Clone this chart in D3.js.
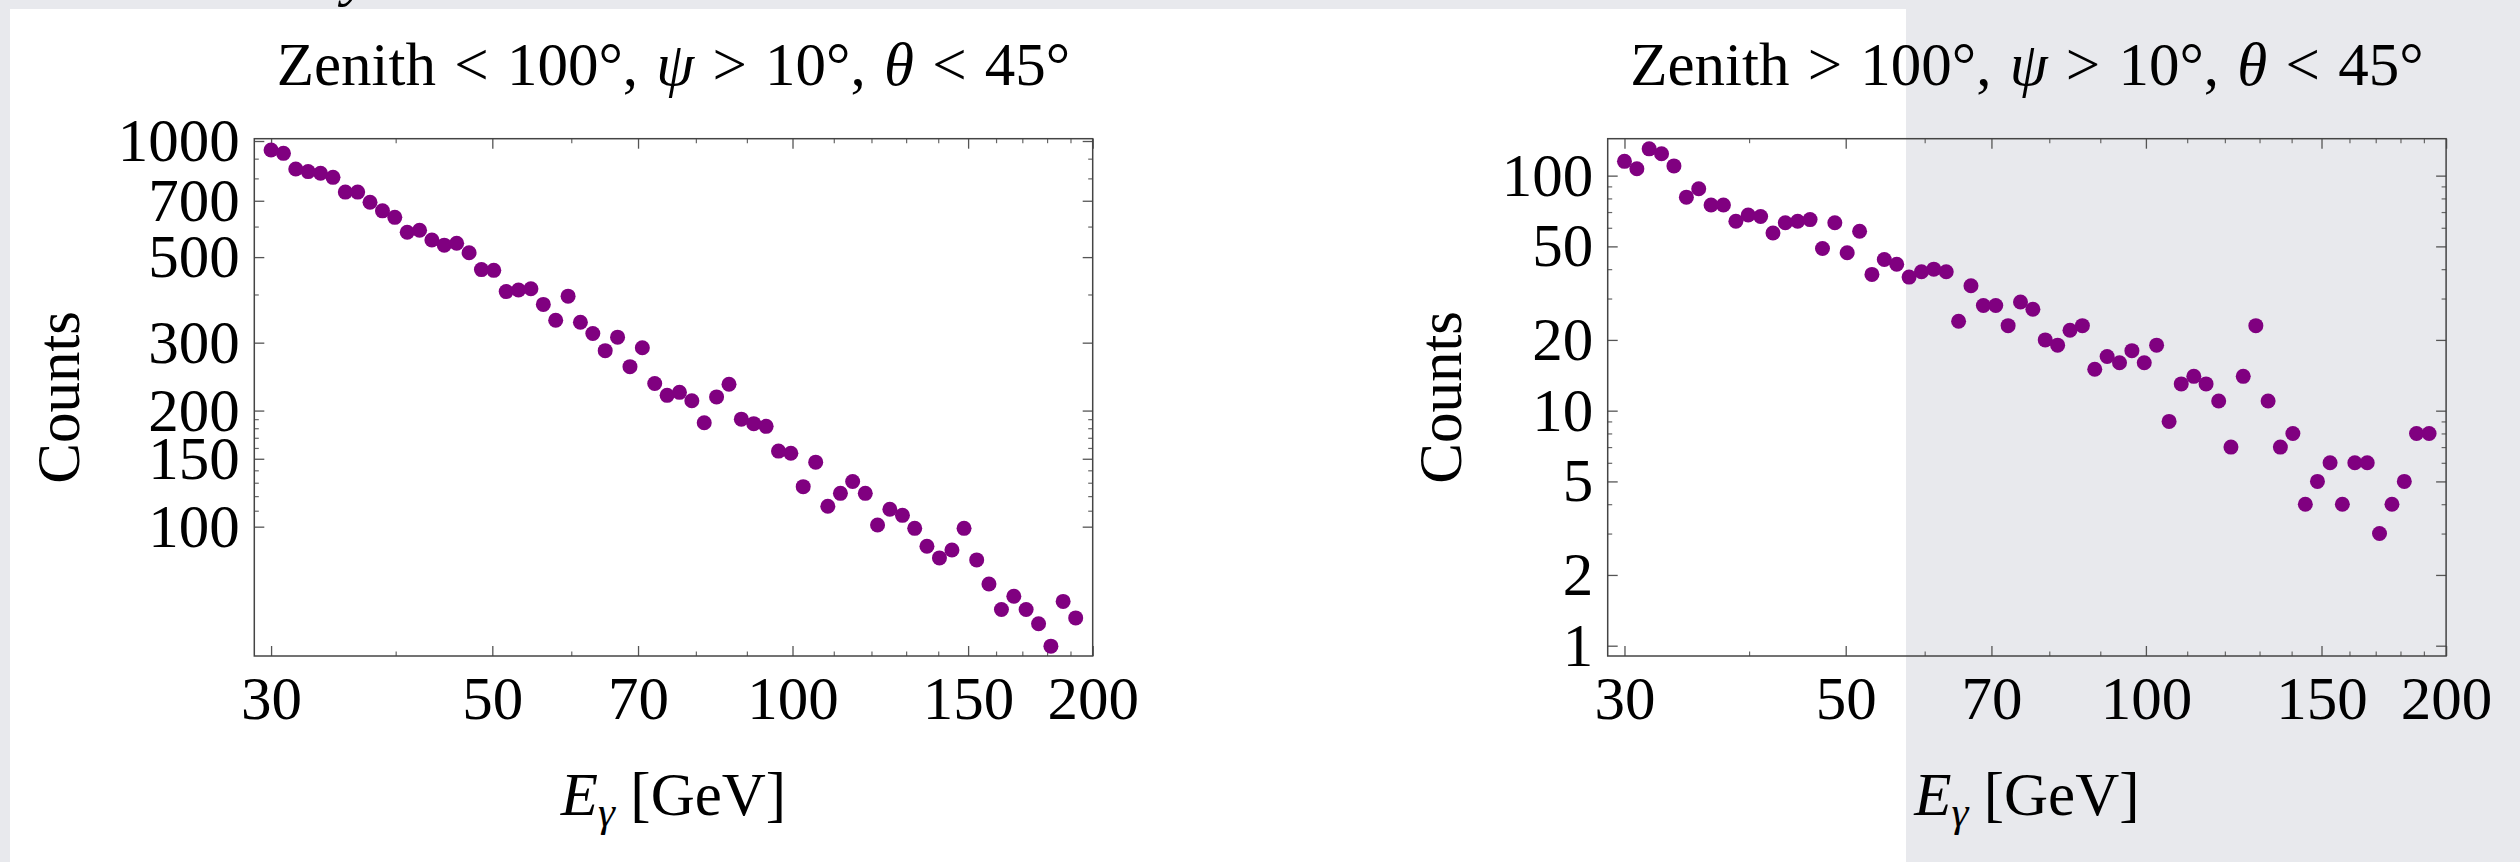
<!DOCTYPE html>
<html>
<head>
<meta charset="utf-8">
<script src="https://cdn.jsdelivr.net/npm/d3@7"></script>
<style>
  body { margin: 0; background: #e8e9ed; }
  svg { display: block; }
</style>
</head>
<body>
<script>

var energies = [30.0, 30.87, 31.76, 32.68, 33.63, 34.61, 35.61, 36.64, 37.70, 38.80,
  39.92, 41.08, 42.27, 43.49, 44.75, 46.05, 47.39, 48.76, 50.17, 51.63,
  53.12, 54.66, 56.25, 57.88, 59.56, 61.28, 63.06, 64.89, 66.77, 68.71,
  70.70, 72.75, 74.86, 77.03, 79.26, 81.56, 83.92, 86.36, 88.86, 91.44,
  94.09, 96.82, 99.62, 102.5, 105.5, 108.5, 111.7, 114.9, 118.3, 121.7,
  125.2, 128.9, 132.6, 136.4, 140.4, 144.5, 148.6, 153.0, 157.4, 162.0,
  166.7, 171.5, 176.5, 181.6, 186.8, 192.3];

// Zenith < 100
var leftCounts = [948, 929, 846, 833, 825, 805, 737, 737, 694, 659,
  634, 580, 587, 554, 537, 543, 513, 464, 462, 407,
  411, 414, 377, 343, 396, 339, 317, 286, 310, 260,
  291, 235, 219, 223, 212, 186, 217, 234, 190, 185,
  182, 157, 155, 127, 147, 113, 122, 131, 122, 101,
  111, 107, 99, 89, 83, 87, 99, 82, 71, 61,
  66, 61, 56, 49, 64, 58];

// Zenith > 100
var rightCounts = [115, 107, 130, 124, 110, 81, 88, 75, 75, 64,
  68, 67, 57, 63, 64, 65, 49, 63, 47, 58,
  38, 44, 42, 37, 39, 40, 39, 24, 34, 28,
  28, 23, 29, 27, 20, 19, 22, 23, 15, 17,
  16, 18, 16, 19, 9, 13, 14, 13, 11, 7,
  14, 23, 11, 7, 8, 4, 5, 6, 4, 6,
  6, 3, 4, 5, 8, 8];

var xTicks = [30, 50, 70, 100, 150, 200];
var xMinorTicks = [40, 60, 80, 90, 110, 120, 130, 140, 160, 170, 180, 190];

var leftYTicks = [100, 150, 200, 300, 500, 700, 1000];
var leftYMinorTicks = [110, 120, 130, 140, 160, 170, 180, 190, 400, 600, 800, 900];

var rightYTicks = [1, 2, 5, 10, 20, 50, 100];
var rightYMinorTicks = [3, 4, 6, 7, 8, 9, 30, 40, 60, 70, 80, 90];

var leftTitle = ['Zenith < 100°, ', 'ψ', ' > 10°, ', 'θ', ' < 45°'];
var rightTitle = ['Zenith > 100°, ', 'ψ', ' > 10°, ', 'θ', ' < 45°'];

var W = 2520, H = 862;
var plotW = 838.4, plotH = 517.3, plotTop = 138.7;
var fontSize = 61;
var serif = '"Liberation Serif", "Times New Roman", Times, serif';

var svg = d3.select('body')
  .append('svg')
  .attr('width', W)
  .attr('height', H);

// slide background: grey with a white area
svg.append('rect')
  .attr('width', W).attr('height', H)
  .attr('fill', '#e8e9ed');
svg.append('rect')
  .attr('x', 10).attr('y', 9)
  .attr('width', 1896).attr('height', H - 9)
  .attr('fill', '#ffffff');

// bit of a glyph from the line above, cut off by the screen edge
svg.append('text')
  .attr('x', 343).attr('y', -6)
  .style('font-family', serif)
  .style('font-style', 'italic')
  .style('font-size', fontSize + 'px')
  .text('y');

var x = d3.scaleLog().domain([28.86, 200]).range([0, plotW]);

const drawPanel = (opts) => {
  var y = d3.scaleLog().domain(opts.yDomain).range([plotH, 0]);

  var g = svg.append('g')
    .attr('transform', 'translate(' + opts.left + ',' + plotTop + ')');

  // minor ticks, all four sides
  var minor = [
    [d3.axisBottom(x).tickValues(xMinorTicks), 'translate(0,' + plotH + ')'],
    [d3.axisTop(x).tickValues(xMinorTicks), 'translate(0,0)'],
    [d3.axisLeft(y).tickValues(opts.yMinor), 'translate(0,0)'],
    [d3.axisRight(y).tickValues(opts.yMinor), 'translate(' + plotW + ',0)']
  ];
  minor.forEach((m) => {
    var a = g.append('g')
      .attr('transform', m[1])
      .call(m[0].tickSize(-4.5).tickFormat(''));
    a.select('.domain').remove();
    a.selectAll('line').attr('stroke', '#666').attr('stroke-width', 1.2);
  });

  // major ticks
  var bottom = g.append('g')
    .attr('transform', 'translate(0,' + plotH + ')')
    .call(d3.axisBottom(x).tickValues(xTicks).tickSize(-10).tickPadding(20).tickFormat(d3.format('d')));
  var top = g.append('g')
    .call(d3.axisTop(x).tickValues(xTicks).tickSize(-10).tickFormat(''));
  var left = g.append('g')
    .call(d3.axisLeft(y).tickValues(opts.yTicks).tickSize(-10).tickPadding(14.5).tickFormat(d3.format('d')));
  var right = g.append('g')
    .attr('transform', 'translate(' + plotW + ',0)')
    .call(d3.axisRight(y).tickValues(opts.yTicks).tickSize(-10).tickFormat(''));

  [bottom, top, left, right].forEach((a) => {
    a.select('.domain').remove();
    a.selectAll('line').attr('stroke', '#555').attr('stroke-width', 1.3);
    a.selectAll('text')
      .attr('fill', '#000')
      .style('font-family', serif)
      .style('font-size', fontSize + 'px');
  });

  // frame
  g.append('rect')
    .attr('width', plotW).attr('height', plotH)
    .attr('fill', 'none')
    .attr('stroke', '#444')
    .attr('stroke-width', 1.5);

  // points
  g.append('g')
    .selectAll('circle')
    .data(opts.counts)
    .enter().append('circle')
      .attr('cx', (d, i) => { return x(energies[i]); })
      .attr('cy', (d) => { return y(d); })
      .attr('r', 7.5)
      .attr('fill', '#800080');

  // title with italic greek letters
  var t = g.append('text')
    .attr('x', plotW / 2)
    .attr('y', 85 - plotTop)
    .attr('text-anchor', 'middle')
    .style('font-family', serif)
    .style('font-size', fontSize + 'px')
    .style('word-spacing', '3px');
  t.selectAll('tspan')
    .data(opts.title)
    .enter().append('tspan')
      .style('font-style', (d, i) => { return i % 2 == 1 ? 'italic' : 'normal'; })
      .text((d) => { return d; });

  // x label
  var xl = g.append('text')
    .attr('x', plotW / 2)
    .attr('y', 815 - plotTop)
    .attr('text-anchor', 'middle')
    .style('font-family', serif)
    .style('font-size', fontSize + 'px');
  xl.append('tspan').style('font-style', 'italic').text('E');
  xl.append('tspan').style('font-style', 'italic').style('font-size', '43px').attr('dy', 11).text('γ');
  xl.append('tspan').attr('dy', -11).text(' [GeV]');

  // y label
  g.append('text')
    .attr('transform', 'translate(' + (opts.yLabelX - opts.left) + ',' + (plotH / 2) + ') rotate(-90)')
    .attr('text-anchor', 'middle')
    .style('font-family', serif)
    .style('font-size', fontSize + 'px')
    .text('Counts');
}

drawPanel({
  left: 254.3,
  yDomain: [46.2, 1013.9],
  yTicks: leftYTicks,
  yMinor: leftYMinorTicks,
  counts: leftCounts,
  title: leftTitle,
  yLabelX: 79
});

drawPanel({
  left: 1607.7,
  yDomain: [0.904, 143.6],
  yTicks: rightYTicks,
  yMinor: rightYMinorTicks,
  counts: rightCounts,
  title: rightTitle,
  yLabelX: 1461
});

</script>
</body>
</html>
